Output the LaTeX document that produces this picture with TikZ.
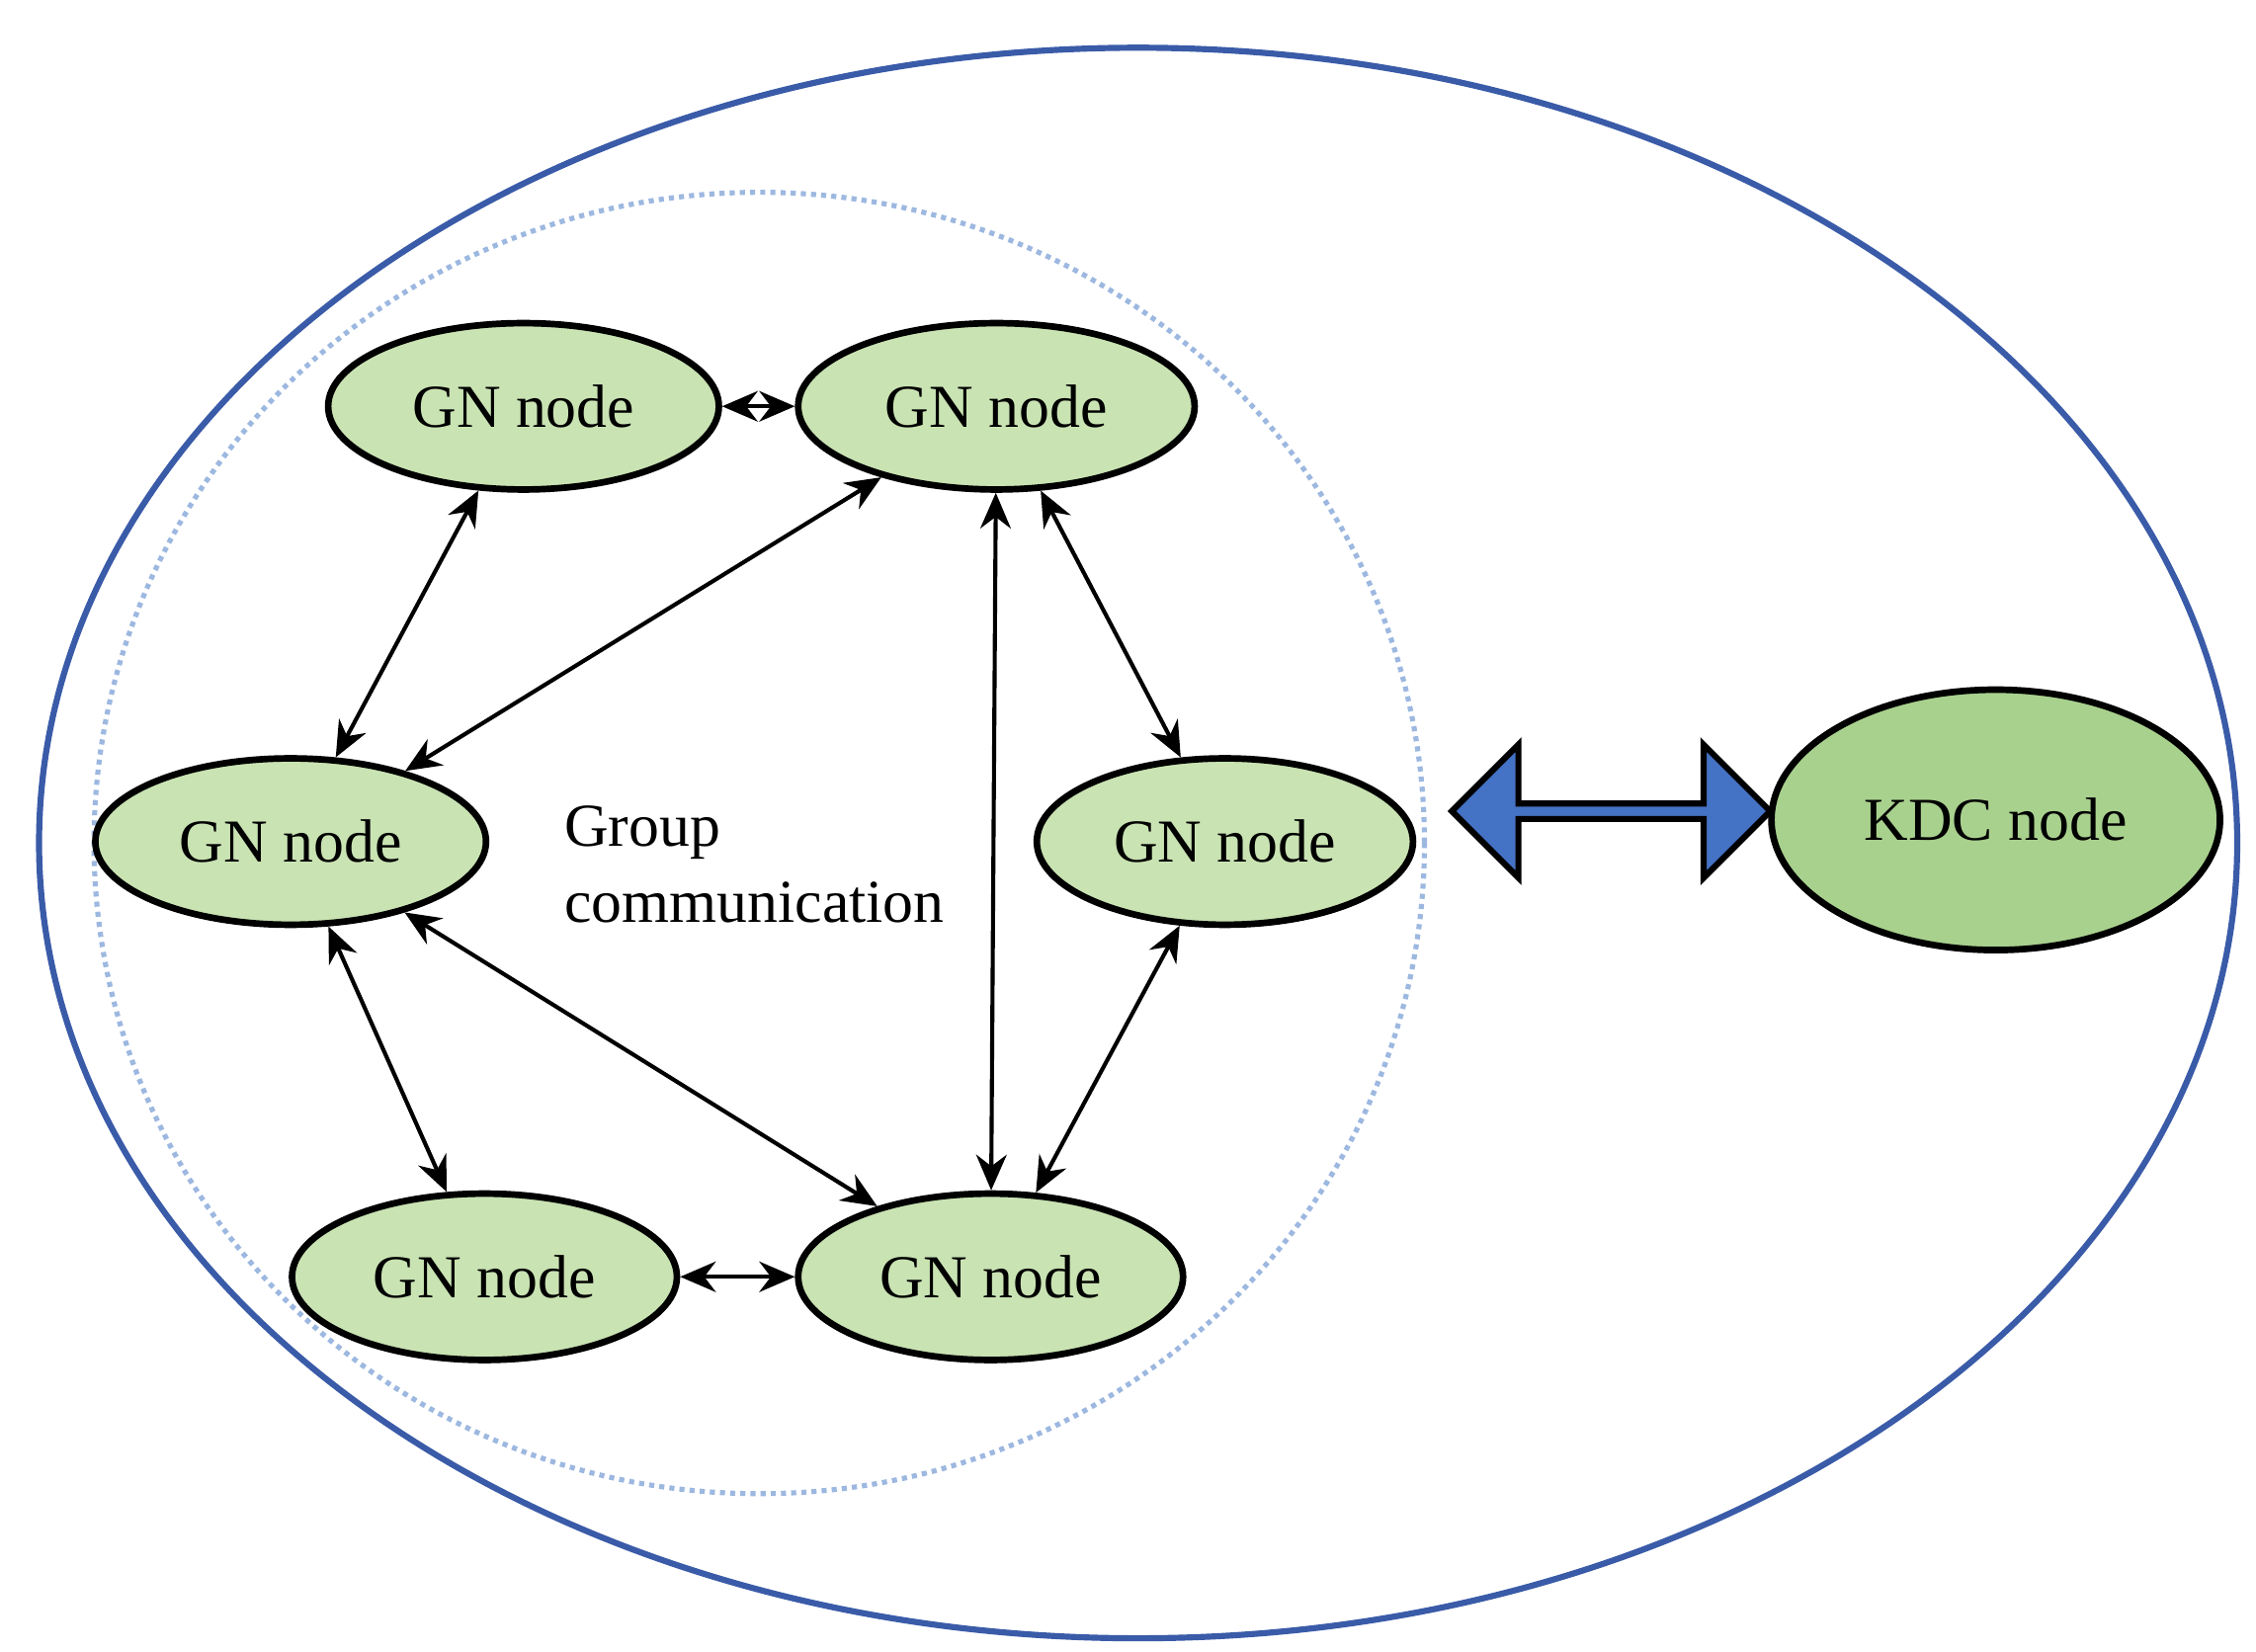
\documentclass[tikz,border=0pt]{standalone}
\usepackage{fontspec}
\setmainfont{Liberation Serif}
\usetikzlibrary{shapes.geometric,shapes.arrows,arrows.meta}

\definecolor{gnfill}{HTML}{C9E3B3}
\definecolor{kdcfill}{HTML}{A9D18E}
\definecolor{ringblue}{HTML}{3A5BA8}
\definecolor{dotblue}{HTML}{9DB8E0}
\definecolor{arrowblue}{HTML}{4472C4}

\tikzstyle{gn} = [ellipse, draw=black, line width=1.3pt, fill=gnfill, minimum width=2.7cm, minimum height=1.15cm, inner sep=0pt, font=\fontsize{12}{14}\selectfont]
\tikzstyle{link} = [{Stealth[length=7pt,width=6pt]}-{Stealth[length=7pt,width=6pt]}, line width=0.8pt]

\begin{document}
\begin{tikzpicture}[x=0.01cm,y=-0.01cm]
\useasboundingbox (0,0) rectangle (1560,1142);

\draw[ringblue, line width=1.2pt] (787,583) ellipse [x radius=760, y radius=550];
\draw[dotblue, densely dotted, line width=1pt] (525,583) ellipse [x radius=460, y radius=450];

\node[gn] (gnTopL) at (362,281) {GN node};
\node[gn, minimum width=2.74cm] (gnTopR) at (689,281) {GN node};
\node[gn] (gnMidL) at (201,582) {GN node};
\node[gn, minimum width=2.6cm] (gnMidR) at (847,582) {GN node};
\node[gn, minimum width=2.66cm] (gnBotL) at (335,883) {GN node};
\node[gn, minimum width=2.66cm] (gnBotR) at (685,883) {GN node};

\node[ellipse, draw=black, line width=1.3pt, fill=kdcfill, minimum width=3.1cm, minimum height=1.8cm, inner sep=0pt, font=\fontsize{12}{14}\selectfont] (kdc) at (1380,567) {KDC node};

\node[double arrow, draw=black, line width=1.2pt, fill=arrowblue, minimum width=0.92cm, minimum height=2.2cm, double arrow head extend=0.16cm, inner sep=0pt] (kdcLink) at (1114,561) {};

\node[align=left, anchor=north west, font=\fontsize{12}{15}\selectfont] (group) at (378,545) {Group\\communication};

\draw[link] (gnTopL) -- (gnTopR);
\draw[link] (gnTopL) -- (gnMidL);
\draw[link] (gnTopR) -- (gnMidL);
\draw[link] (gnTopR) -- (gnBotR);
\draw[link] (gnTopR) -- (gnMidR);
\draw[link] (gnMidL) -- (gnBotL);
\draw[link] (gnMidL) -- (gnBotR);
\draw[link] (gnMidR) -- (gnBotR);
\draw[link] (gnBotL) -- (gnBotR);

\end{tikzpicture}
\end{document}
